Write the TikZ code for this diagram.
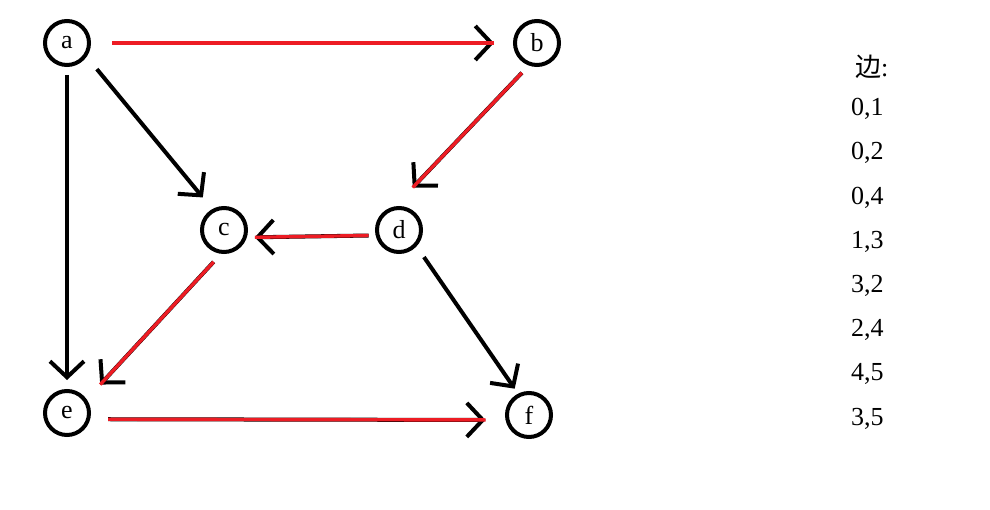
\documentclass[tikz,border=0pt]{standalone}
\usepackage{fontspec}
\setmainfont{Liberation Serif}
\newfontfamily\cjk{Noto Sans CJK SC}
\usetikzlibrary{arrows.meta}
\definecolor{paintred}{RGB}{237,28,36}

\begin{document}
\begin{tikzpicture}[x=1pt, y=-1pt,
  vertex/.style={circle, draw, line width=4pt, minimum size=44pt, inner sep=0pt, font=\fontsize{26}{28}\selectfont},
  edge/.style={line width=4pt, -{Straight Barb[length=16pt, width=34pt]}},
  rededge/.style={line width=3.4pt, color=paintred},
  label/.style={anchor=west, inner sep=0pt, font=\fontsize{26}{28}\selectfont}]
\useasboundingbox (0, 0) rectangle (990, 510);
% vertices
\node [vertex] (a) at (67, 43) {a};
\node [vertex] (b) at (537, 43) {b};
\node [vertex] (c) at (224, 230) {c};
\node [vertex] (d) at (399, 230) {d};
\node [vertex] (e) at (67, 413) {e};
\node [vertex] (f) at (529, 415) {f};
% black edges
\draw [edge, shorten <=16pt, shorten >=15pt] (a.325) -- (c.119);
\draw [edge, shorten <=8pt, shorten >=9pt] (a.270) -- (e.90);
\draw [edge, shorten <=13pt, shorten >=6pt] (d.317) -- (f.117);
% red edges
\foreach \u/\v/\s/\t in {a.0/b.180/21/19, b.250/d.100/10/26, d.193/c.342/7/8, c.263/e.35/11/20, e.345/f.192/18/20} {
  \draw [edge, shorten <=\s pt, shorten >=\t pt] (\u) -- (\v);
  \draw [rededge, shorten <=\s pt, shorten >=\t pt] (\u) -- (\v);
}
% edge list
\node [label] (title) at (855, 67) {{\cjk 边}:};
\foreach \t [count=\i] in {{0,1},{0,2},{0,4},{1,3},{3,2},{2,4},{4,5},{3,5}}
  \node [label] (l\i) at (851, 109 + 44.2*\i - 44.2) {\t};
\end{tikzpicture}
\end{document}
